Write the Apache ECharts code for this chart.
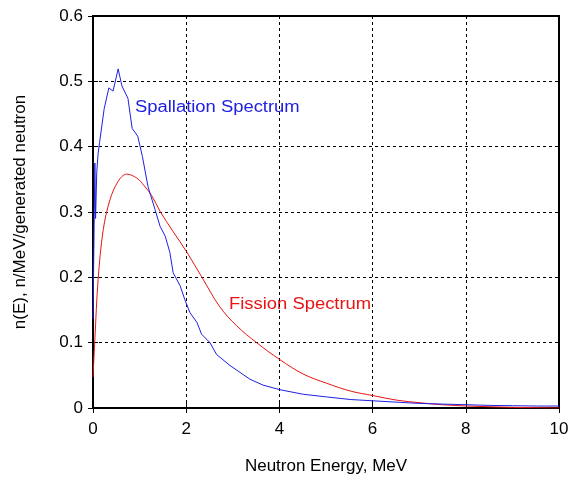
<!DOCTYPE html>
<html><head><meta charset="utf-8">
<script src="https://cdn.jsdelivr.net/npm/echarts@6/dist/echarts.min.js"></script>
<style>html,body{margin:0;padding:0;background:#fff}#c{width:580px;height:480px}</style>
</head><body><div id="c"></div>
<script>
// Spallation spectrum (blue)
const spallE = [0, 0.04, 0.055, 0.08, 0.11, 0.14, 0.24, 0.34, 0.43, 0.54, 0.62, 0.75, 0.84, 0.96, 1.06, 1.18, 1.24, 1.33, 1.44, 1.55, 1.65, 1.72, 1.87, 1.97, 2.08, 2.23, 2.33, 2.51, 2.65, 2.94, 3.37, 3.65, 4.01, 4.51, 5.01, 5.52, 6.01, 6.5, 7.02, 7.5, 8.02, 8.5, 9.0, 9.52, 10];
const spallN = [0.136, 0.375, 0.29, 0.36, 0.39, 0.406, 0.458, 0.49, 0.485, 0.519, 0.493, 0.474, 0.428, 0.416, 0.385, 0.339, 0.325, 0.304, 0.278, 0.263, 0.238, 0.207, 0.187, 0.166, 0.146, 0.131, 0.113, 0.100, 0.082, 0.065, 0.044, 0.035, 0.028, 0.021, 0.017, 0.013, 0.011, 0.009, 0.007, 0.006, 0.005, 0.004, 0.0035, 0.003, 0.003];
// Fission spectrum (red)
const fissE = [0, 0.04, 0.11, 0.22, 0.365, 0.54, 0.72, 0.94, 1.1, 1.26, 1.44, 1.72, 2.01, 2.33, 2.72, 3.08, 3.51, 4.01, 4.51, 5.01, 5.52, 6.01, 6.52, 7.02, 7.5, 8.02, 8.5, 9.0, 9.5, 10];
const fissN = [0.047, 0.105, 0.197, 0.273, 0.319, 0.347, 0.358, 0.352, 0.34, 0.325, 0.301, 0.27, 0.239, 0.201, 0.155, 0.126, 0.100, 0.074, 0.052, 0.038, 0.026, 0.019, 0.012, 0.008, 0.005, 0.003, 0.002, 0.001, 0.0005, 0];
const xTicks = [0, 2, 4, 6, 8, 10];
const yTicks = [0, 0.1, 0.2, 0.3, 0.4, 0.5, 0.6];
const xTitle = 'Neutron Energy, MeV';
const yTitle = 'n(E), n/MeV/generated neutron';
const spallLabel = 'Spallation Spectrum';
const fissLabel = 'Fission Spectrum';

const BLUE = '#2020e0', RED = '#e81414';
const FONT = '"Liberation Sans", Arial, sans-serif';
const chart = echarts.init(document.getElementById('c'), null, {renderer: 'canvas'});
const tickStyle = {inside: true, length: 5, lineStyle: {color: '#000', width: 1}};
const split = {show: true, lineStyle: {color: '#000', type: [3, 3], width: 1}};
chart.setOption({
  animation: false,
  backgroundColor: '#fff',
  grid: {left: 93, right: 21, top: 16, bottom: 71, show: true, borderColor: '#000', borderWidth: 2, backgroundColor: 'transparent'},
  xAxis: [{
    type: 'value', min: xTicks[0], max: xTicks[xTicks.length - 1], interval: xTicks[1] - xTicks[0],
    axisLine: {show: false}, axisTick: tickStyle, splitLine: split,
    axisLabel: {color: '#000', fontSize: 17, fontFamily: FONT, margin: 13},
    name: xTitle, nameLocation: 'middle', nameGap: 50,
    nameTextStyle: {color: '#000', fontSize: 17, fontFamily: FONT}
  }, {
    type: 'value', position: 'top', min: xTicks[0], max: xTicks[xTicks.length - 1], interval: xTicks[1] - xTicks[0],
    axisLine: {show: false}, axisTick: tickStyle, splitLine: {show: false}, axisLabel: {show: false}
  }],
  yAxis: [{
    type: 'value', min: yTicks[0], max: yTicks[yTicks.length - 1], interval: 0.1,
    axisLine: {show: false}, axisTick: tickStyle, splitLine: split,
    axisLabel: {color: '#000', fontSize: 17, fontFamily: FONT, margin: 10,
      formatter: v => (Math.round(v * 10) / 10).toString()},
    name: yTitle, nameLocation: 'middle', nameGap: 64,
    nameTextStyle: {color: '#000', fontSize: 17, fontFamily: FONT}
  }, {
    type: 'value', position: 'right', min: yTicks[0], max: yTicks[yTicks.length - 1], interval: 0.1,
    axisLine: {show: false}, axisTick: tickStyle, splitLine: {show: false}, axisLabel: {show: false}
  }],
  series: [{
    type: 'line', name: spallLabel, showSymbol: false, symbol: 'none',
    data: spallE.map((e, i) => [e, spallN[i]]),
    lineStyle: {color: BLUE, width: 1}, itemStyle: {color: BLUE}, z: 3
  }, {
    type: 'line', name: fissLabel, showSymbol: false, symbol: 'none', smooth: 0.35,
    data: fissE.map((e, i) => [e, fissN[i]]),
    lineStyle: {color: RED, width: 1}, itemStyle: {color: RED}, z: 2
  }],
  graphic: [{
    type: 'text', x: 135, y: 100, scaleX: 1.15,
    style: {text: spallLabel, fill: BLUE, font: '16px ' + FONT, textVerticalAlign: 'top'}
  }, {
    type: 'text', x: 229, y: 297, scaleX: 1.15,
    style: {text: fissLabel, fill: RED, font: '16px ' + FONT, textVerticalAlign: 'top'}
  }]
});
</script>
</body></html>
